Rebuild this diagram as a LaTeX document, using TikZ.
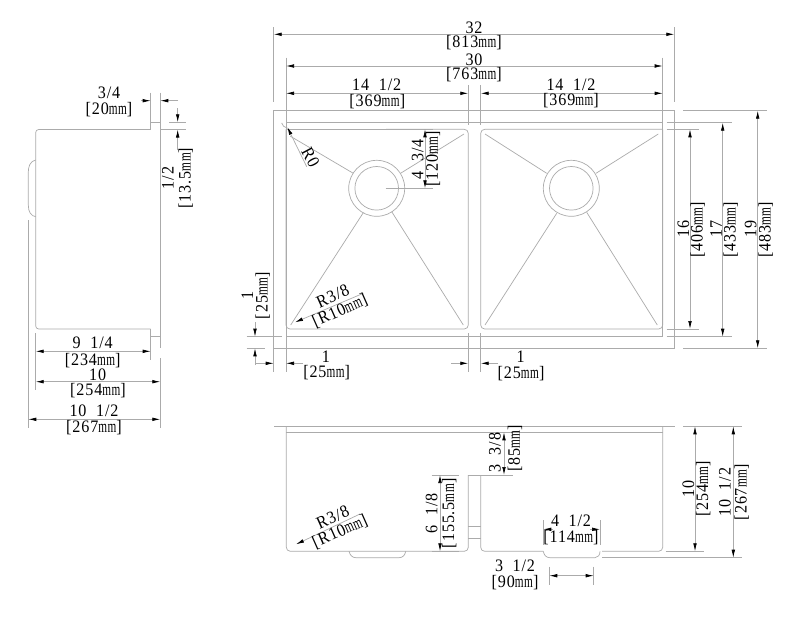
\documentclass[tikz,border=0pt]{standalone}
\usepackage{fontspec}
\usepackage{graphicx}
\setmainfont[FakeStretch=0.92,LetterSpace=5]{Liberation Serif}
\usetikzlibrary{arrows.meta}
\newcommand{\mym}{\scalebox{.7}[1]{mm}}
\newcommand{\gapp}{\hspace{0.55em}}
\tikzset{
  ln/.style={draw=black!33,line width=0.7pt},
  tipa/.tip={Latex[length=8pt,width=3.6pt,color=black]},
  dimboth/.style={ln,tipa-tipa},
  dimend/.style={ln,-tipa},
  lab/.style={inner sep=0pt,font=\fontsize{17.5}{18}\selectfont,text=black},
}
\begin{document}
\begin{tikzpicture}[x=1pt,y=-1pt]
\useasboundingbox (0,0) rectangle (800,616);
\fill[white] (0,0) rectangle (800,616);
% ---------- side view
\draw[ln,rounded corners=3] (150.7,129.5) -- (35.7,129.5) -- (35.7,329) -- (150.7,329);
\draw[ln] (150.7,329) -- (150.7,336.7) -- (160.3,336.7);
\draw[ln] (150.7,129.5) -- (150.7,122.3) -- (160.3,122.3);
\draw[ln] (160.3,92.7) -- (160.3,348);
\draw[ln] (35.7,160) .. controls (30,161) and (28.3,167) .. (28.3,172) -- (28.3,205) .. controls (28.3,212) and (31,216) .. (35.7,216.7);
\draw[ln] (28.3,220) -- (28.3,427.7);
\draw[ln] (150.7,92.7) -- (150.7,122.3);
\draw[ln] (160.3,129.5) -- (186,129.5);
\draw[ln] (169,122.3) -- (186,122.3);
\draw[dimend] (178,100.7) -- (160.3,100.7);
\draw[dimend] (141,100.7) -- (150.7,100.7);
\draw[dimend] (177.7,108) -- (177.7,122.3);
\draw[dimend] (177.7,150) -- (177.7,129.5);
\draw[ln] (35.7,333) -- (35.7,390);
\draw[ln] (150.7,336.7) -- (150.7,360);
\draw[ln] (160.3,358) -- (160.3,427.7);
\draw[dimboth] (35.7,351.3) -- (150.7,351.3);
\draw[dimboth] (35.7,381.7) -- (160.3,381.7);
\draw[dimboth] (28.3,419.3) -- (160.3,419.3);
\node[lab] (s34) at (109,92.7) {3/4};
\node[lab] (s20) at (109,109.3) {[20\mym]};
\node[lab,rotate=90] (s12) at (168,178) {1/2};
\node[lab,rotate=90] (s135) at (185.7,178) {[13.5\mym]};
\node[lab] (s914) at (92.7,343) {9\gapp1/4};
\node[lab] (s234) at (92.7,360.7) {[234\mym]};
\node[lab] (s10) at (97.7,375) {10};
\node[lab] (s254) at (98,390.7) {[254\mym]};
\node[lab] (s1012) at (94,411) {10\gapp1/2};
\node[lab] (s267) at (94,427.7) {[267\mym]};
% ---------- top view
\draw[ln] (273.7,110.7) rectangle (674.3,348.3);
\draw[ln] (286,122.7) rectangle (662.7,336.7);
\draw[ln,rounded corners=4] (286,129.3) -- (286,329) -- (468.3,329) -- (468.3,129.3) -- (386,129.3);
\draw[ln] (286,129.3) -- (433,129.3);
\draw[ln,rounded corners=4] (662.7,129.3) -- (662.7,329) -- (480.7,329) -- (480.7,129.3) -- (662.7,129.3);
\draw[ln] (376.7,188.3) circle (28);
\draw[ln] (376.7,188.3) circle (21.8);
\draw[ln] (571.3,188.3) circle (28);
\draw[ln] (571.3,188.3) circle (21.8);
\draw[ln] (290,136) -- (353.3,173.3);
\draw[ln] (464,134) -- (401,173);
\draw[ln] (290.7,325) -- (363.3,212.7);
\draw[ln] (463.3,325) -- (391.7,211.7);
\draw[ln] (485,134) -- (546.7,173.3);
\draw[ln] (658.3,134) -- (596,173.3);
\draw[ln] (485,325) -- (556.7,213.3);
\draw[ln] (657.3,325) -- (586.7,212.3);
\draw[ln] (281.7,123) .. controls (283,126) and (284,127) .. (286,127.5);
% top dims
\draw[ln] (273.7,27) -- (273.7,101.7);
\draw[ln] (674.3,27) -- (674.3,101.7);
\draw[ln] (286,57.7) -- (286,122.7);
\draw[ln] (662.7,57.7) -- (662.7,122.7);
\draw[ln] (468.3,85) -- (468.3,125);
\draw[ln] (480.7,85) -- (480.7,125);
\draw[dimboth] (273.7,34.3) -- (674.3,34.3);
\draw[dimboth] (286,66) -- (662.7,66);
\draw[dimboth] (286,93.3) -- (468.3,93.3);
\draw[dimboth] (480.7,93.3) -- (662.7,93.3);
\node[lab] (t32) at (474,27.3) {32};
\node[lab] (t813) at (474,42.7) {[813\mym]};
\node[lab] (t30) at (474,59.3) {30};
\node[lab] (t763) at (474,74.3) {[763\mym]};
\node[lab] (t14a) at (376.7,85) {14\gapp1/2};
\node[lab] (t369a) at (377.3,101.7) {[369\mym]};
\node[lab] (t14b) at (571,84.3) {14\gapp1/2};
\node[lab] (t369b) at (571,100.7) {[369\mym]};
% 4 3/4
\draw[ln] (385.7,188.3) -- (433,188.3);
\draw[dimboth] (425,129.3) -- (425,188.3);
\node[lab,rotate=90] (t434) at (417.7,159) {4\gapp3/4};
\node[lab,rotate=90] (t120) at (433,159) {[120\mym]};
% R0
\draw[dimend] (306.7,166.7) -- (287.3,127);
\node[lab,rotate=-62] (tR0) at (310.5,157) {R0};
% R3/8 top
\draw[dimend] (363.3,293.3) -- (295,322.3);
\node[lab,rotate=24] (tR38) at (332.7,296) {R3/8};
\node[lab,rotate=24] (tR10) at (340,311) {[R10\mym]};
% left 1
\draw[ln] (246.7,336.7) -- (282,336.7);
\draw[ln] (246.7,348.3) -- (265,348.3);
\draw[dimend] (255,322) -- (255,336.7);
\draw[dimend] (255,365) -- (255,348.3);
\node[lab,rotate=90] (t1l) at (247.3,295) {1};
\node[lab,rotate=90] (t25l) at (262.7,295.7) {[25\mym]};
% bottom 1s
\draw[ln] (273.7,348.3) -- (273.7,371.7);
\draw[ln] (286,336.7) -- (286,371.7);
\draw[ln] (468.3,333) -- (468.3,371.7);
\draw[ln] (480.7,333) -- (480.7,371.7);
\draw[dimend] (255,363.3) -- (273.7,363.3);
\draw[dimend] (303,363.3) -- (286,363.3);
\draw[dimend] (451,363.3) -- (468.3,363.3);
\draw[dimend] (498,363.3) -- (480.7,363.3);
\node[lab] (t1a) at (326,356.7) {1};
\node[lab] (t25a) at (326.7,372.3) {[25\mym]};
\node[lab] (t1b) at (520.7,356.7) {1};
\node[lab] (t25b) at (521,373.3) {[25\mym]};
% right dims
\draw[ln] (666.7,129.3) -- (699,129.3);
\draw[ln] (666.7,329) -- (699,329);
\draw[ln] (666.7,122.7) -- (731.7,122.7);
\draw[ln] (666.7,336.7) -- (731.7,336.7);
\draw[ln] (683,110.7) -- (766.7,110.7);
\draw[ln] (683,348.3) -- (766.7,348.3);
\draw[dimboth] (690,129.3) -- (690,329);
\draw[dimboth] (722.7,122.7) -- (722.7,336.7);
\draw[dimboth] (757.7,110.7) -- (757.7,348.3);
\node[lab,rotate=90] (r16) at (683.3,229.3) {16};
\node[lab,rotate=90] (r406) at (697.7,229.7) {[406\mym]};
\node[lab,rotate=90] (r17) at (716,229.3) {17};
\node[lab,rotate=90] (r433) at (730.7,229.7) {[433\mym]};
\node[lab,rotate=90] (r19) at (750.7,229.3) {19};
\node[lab,rotate=90] (r483) at (765.7,229.7) {[483\mym]};
% ---------- front view
\draw[ln] (274,426.3) -- (675,426.3);
\draw[ln] (683,426.3) -- (741.7,426.3);
\draw[ln] (286.3,432.3) -- (662.7,432.3);
\draw[ln,rounded corners=4] (286.3,426.3) -- (286.3,551.3) -- (468.3,551.3) -- (468.3,475);
\draw[ln,rounded corners=4] (480.7,475) -- (480.7,551.3) -- (543.3,551.3);
\draw[ln,rounded corners=4] (602,551.3) -- (662.7,551.3) -- (662.7,426.3);
\draw[ln] (468.3,475) -- (513,475);
\draw[ln] (468.3,526.7) -- (480.7,526.7);
\draw[ln] (468.3,538.3) -- (480.7,538.3);
\draw[ln] (431.7,475) -- (459.3,475);
\draw[ln] (476.7,432.3) -- (513,432.3);
\draw[ln] (349,551.3) .. controls (350,555) and (352,557.7) .. (356,557.7) -- (399,557.7) .. controls (403,557.7) and (405,555) .. (405.7,551.3);
\draw[ln] (543.3,551.3) .. controls (544,555) and (546,557.7) .. (550,557.7) -- (595,557.7) .. controls (598,557.7) and (600,555) .. (600,551.3);
\draw[dimboth] (504,432.3) -- (504,475);
\node[lab,rotate=90] (f338) at (495,452.7) {3\gapp3/8};
\node[lab,rotate=90] (f85) at (515,448.3) {[85\mym]};
\draw[dimboth] (440,475) -- (440,551.3);
\draw[ln] (431.7,551.3) -- (459.3,551.3);
\node[lab,rotate=90] (f618) at (431.7,513.3) {6\gapp1/8};
\node[lab,rotate=90] (f155) at (449.3,513.3) {[155.5\mym]};
\draw[dimend] (360,514) -- (296,544.3);
\node[lab,rotate=24] (fR38) at (332.7,517.3) {R3/8};
\node[lab,rotate=24] (fR10) at (340,531.7) {[R10\mym]};
% front right dims
\draw[ln] (665.7,551.3) -- (704,551.3);
\draw[ln] (602,557.7) -- (741.7,557.7);
\draw[dimboth] (695,426.3) -- (695,551.3);
\draw[dimboth] (733.3,426.3) -- (733.3,557.7);
\node[lab,rotate=90] (f10) at (688.3,489) {10};
\node[lab,rotate=90] (f254) at (703.3,489) {[254\mym]};
\node[lab,rotate=90] (f1012) at (725,492.3) {10\gapp1/2};
\node[lab,rotate=90] (f267) at (741.7,492.3) {[267\mym]};
% bottom dims
\draw[ln] (543.3,520) -- (543.3,545);
\draw[ln] (600,520) -- (600,545);
\draw[dimend] (553,529.3) -- (543.3,529.3);
\draw[dimend] (590,529.3) -- (600,529.3);
\node[lab] (f412) at (571,521) {4\gapp1/2};
\node[lab] (f114) at (571,537.7) {[114\mym]};
\draw[ln] (549.3,566.7) -- (549.3,585);
\draw[ln] (593.7,566.7) -- (593.7,585);
\draw[dimboth] (549.3,575.7) -- (593.7,575.7);
\node[lab] (f312) at (515,566) {3\gapp1/2};
\node[lab] (f90) at (515,583) {[90\mym]};
\end{tikzpicture}
\end{document}
